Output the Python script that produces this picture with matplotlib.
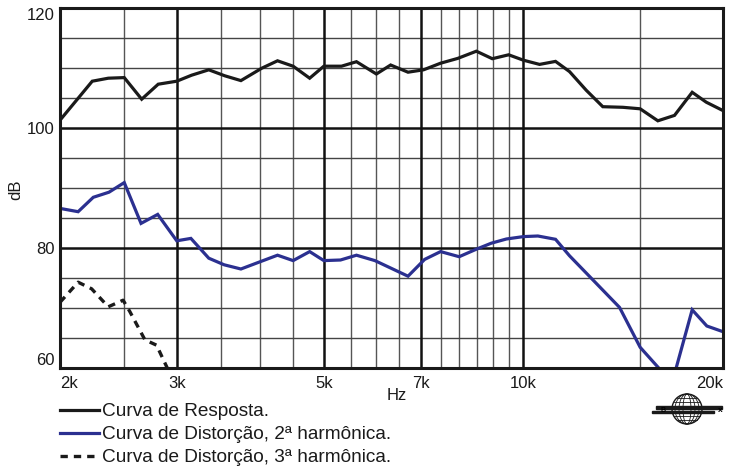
import math
import matplotlib
matplotlib.use("Agg")
import matplotlib.pyplot as plt
from matplotlib.ticker import NullLocator, FixedLocator
from matplotlib.patches import Circle, Ellipse, Rectangle

plt.rcParams['font.family'] = ['Liberation Sans', 'DejaVu Sans']

# ---- data ----
resp_f = [2000, 2237, 2365, 2500, 2656, 2813, 3000, 3159, 3353, 3545, 3749, 4028, 4257,
          4494, 4760, 5000, 5316, 5600, 6001, 6306, 6698, 7070, 7500, 7960, 8492, 8975,
          9500, 10000, 10576, 11180, 11737, 12436, 13174, 14125, 15000, 15950, 16900,
          17970, 18870, 20000]
resp_db = [101.3, 107.8, 108.3, 108.4, 104.8, 107.3, 107.8, 108.8, 109.7, 108.7, 107.9,
           109.95, 111.2, 110.3, 108.3, 110.3, 110.3, 111.05, 109.0, 110.5, 109.3, 109.7,
           110.8, 111.6, 112.8, 111.55, 112.2, 111.3, 110.6, 111.1, 109.4, 106.3, 103.55,
           103.45, 103.2, 101.2, 102.1, 105.95, 104.3, 102.9]

h2_f = [2000, 2130, 2245, 2371, 2500, 2650, 2808, 3000, 3151, 3353, 3537, 3749, 3972,
        4257, 4494, 4760, 5000, 5298, 5600, 5970, 6698, 7096, 7500, 8000, 8492, 8944,
        9425, 10000, 10515, 11180, 11737, 12725, 13963, 15000, 16300, 16900, 17970,
        18908, 20000]
h2_db = [86.6, 86.05, 88.45, 89.3, 90.9, 84.1, 85.6, 81.2, 81.6, 78.3, 77.2, 76.5, 77.55,
         78.8, 77.9, 79.4, 77.9, 78.0, 78.8, 77.9, 75.3, 78.1, 79.4, 78.55, 79.8, 80.8,
         81.5, 81.9, 82.0, 81.45, 78.7, 74.7, 70.1, 63.45, 59.0, 59.0, 69.7, 67.0, 66.05]

h3_f = [2000, 2130, 2232, 2365, 2490, 2549, 2686, 2797, 2897, 2960]
h3_db = [70.95, 74.3, 73.2, 70.2, 71.3, 69.4, 64.7, 63.8, 60.2, 58.0]

xtick_vals = [2000, 3000, 5000, 7000, 10000, 20000]
xtick_labels = ['2k', '3k', '5k', '7k', '10k', '20k']
ytick_vals = [60, 80, 100, 120]
ytick_labels = ['60', '80', '100', '120']

major_vlines = [3000, 5000, 7000, 10000]
minor_vlines = [2500, 3500, 4000, 4500, 5500, 6000, 6500, 7500, 8000, 8500, 9000, 9500, 15000]
major_hlines = [80, 100]
minor_hlines = [65, 70, 75, 85, 90, 95, 105, 110, 115]

legend_labels = ['Curva de Resposta.',
                 'Curva de Distorção, 2ª harmônica.',
                 'Curva de Distorção, 3ª harmônica.']

BLUE = '#2b3090'

fig = plt.figure(figsize=(7.39, 4.68), dpi=100)
ax = fig.add_axes([60/739, 1-368/468, (723-60)/739, 360/468])
ax.set_xscale('log')
ax.set_xlim(2000, 20000)
ax.set_ylim(60, 120)

for v in minor_vlines:
    ax.axvline(v, color='#555555', lw=1.0, zorder=1)
for h in minor_hlines:
    ax.axhline(h, color='#444444', lw=1.0, zorder=1)
for v in major_vlines:
    ax.axvline(v, color='#111111', lw=1.8, zorder=1.5)
for h in major_hlines:
    ax.axhline(h, color='#111111', lw=1.8, zorder=1.5)

l1, = ax.plot(resp_f, resp_db, color='#1a1a1a', lw=2.3, zorder=3,
              solid_joinstyle='miter', label=legend_labels[0])
l2, = ax.plot(h2_f, h2_db, color=BLUE, lw=2.3, zorder=3,
              solid_joinstyle='miter', label=legend_labels[1])
l3, = ax.plot(h3_f, h3_db, color='#1a1a1a', lw=2.4, zorder=3,
              dashes=(2.2, 1.8), label=legend_labels[2])

for s in ax.spines.values():
    s.set_linewidth(2.2)
    s.set_color('#1a1a1a')
    s.set_zorder(4)

ax.xaxis.set_major_locator(FixedLocator(xtick_vals))
ax.xaxis.set_minor_locator(NullLocator())
ax.set_xticklabels(xtick_labels)
ax.set_yticks(ytick_vals)
ax.set_yticklabels(ytick_labels)
ax.tick_params(axis='both', length=0, labelsize=12, colors='#1a1a1a')
ax.tick_params(axis='x', pad=6)
ax.tick_params(axis='y', pad=4)

xl = ax.get_xticklabels()
xl[0].set_ha('left')
xl[-1].set_ha('right')
yl = ax.get_yticklabels()
yl[0].set_va('bottom')
yl[-1].set_va('top')

fig.text(16/739, 1-190/468, 'dB', rotation=90, fontsize=12, ha='center', va='center',
         color='#1a1a1a')
fig.text(397/739, 1-396/468, 'Hz', fontsize=12, ha='center', va='center', color='#1a1a1a')

leg = fig.legend(handles=[l1, l2, l3], loc='upper left',
                 bbox_to_anchor=(60/739, 1-403/468), frameon=False, fontsize=13.7,
                 handlelength=2.05, handletextpad=0.18, labelspacing=0.3,
                 borderpad=0, borderaxespad=0)
for t in leg.get_texts():
    t.set_color('#1a1a1a')

# logo
lax = fig.add_axes([650/739, 1-426/468, 74/739, 34/468])
lax.set_xlim(0, 74)
lax.set_ylim(0, 34)
lax.set_aspect('equal')
lax.axis('off')
cx, cy, r = 37, 17, 15
lax.add_patch(Circle((cx, cy), r, fill=False, lw=1.0, color='#1a1a1a'))
for w in [8, 16, 24]:
    lax.add_patch(Ellipse((cx, cy), w, 2*r, fill=False, lw=0.6, color='#1a1a1a'))
for dy in [-11, -7, -3, 3, 7, 11]:
    half = math.sqrt(max(r*r - dy*dy, 0))
    lax.plot([cx-half, cx+half], [cy+dy, cy+dy], color='#1a1a1a', lw=0.6)
lax.add_patch(Rectangle((6, 17.5), 66, 2.6, color='#1a1a1a'))
lax.add_patch(Rectangle((2, 12.6), 62, 2.6, color='#1a1a1a'))
lax.text(13, 16, 'B', fontsize=5, fontweight='bold', ha='center', va='center')
lax.text(70, 15.5, 'x', fontsize=6, fontweight='bold', ha='center', va='center')

fig.savefig('out.png', dpi=100)
